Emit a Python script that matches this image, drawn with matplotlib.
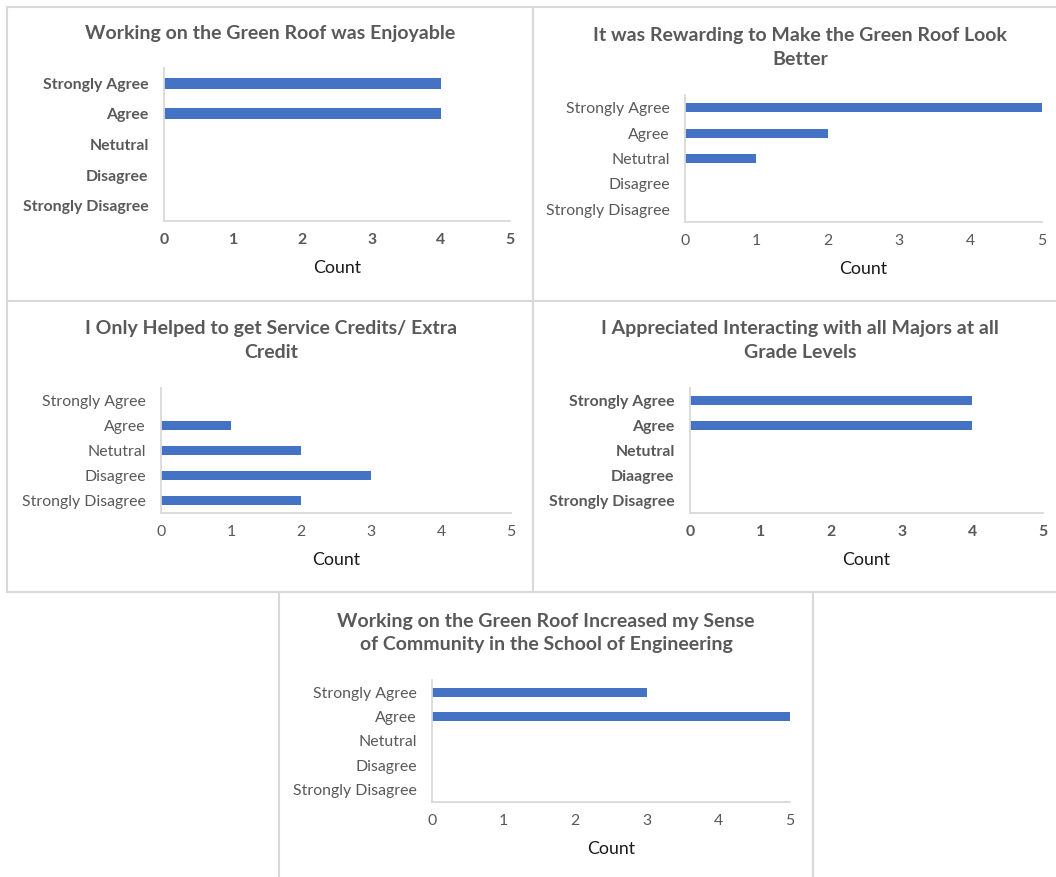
import matplotlib
matplotlib.use("Agg")
import matplotlib.pyplot as plt
from matplotlib.lines import Line2D

W, H = 1056, 877
DPI = 100

plt.rcParams["font.family"] = ["Lato", "DejaVu Sans"]

BAR_COLOR = "#4472C4"
GRAY_TXT = "#595959"
BORDER = "#D9D9D9"

# survey answers, top row first
levels = ["Strongly Agree", "Agree", "Netutral", "Disagree", "Strongly Disagree"]
levels_typo = ["Strongly Agree", "Agree", "Netutral", "Diaagree", "Strongly Disagree"]

enjoyable = [4, 4, 0, 0, 0]
rewarding = [5, 2, 1, 0, 0]
credits_only = [0, 1, 2, 3, 2]
majors = [4, 4, 0, 0, 0]
community = [3, 5, 0, 0, 0]

titles = [
    "Working on the Green Roof was Enjoyable",
    "It was Rewarding to Make the Green Roof Look\nBetter",
    "I Only Helped to get Service Credits/ Extra\nCredit",
    "I Appreciated Interacting with all Majors at all\nGrade Levels",
    "Working on the Green Roof Increased my Sense\nof Community in the School of Engineering",
]

xticks = [0, 1, 2, 3, 4, 5]


def px_axes(fig, left, top, right, bottom):
    return fig.add_axes([left / W, 1 - bottom / H, (right - left) / W, (bottom - top) / H])


def panel(fig, box, labels, values, title, title_xy, bold):
    left, top, right, bottom = box
    ax = px_axes(fig, left, top, right, bottom)
    ypos = list(range(len(labels)))
    ax.barh(ypos, values, height=0.36, color=BAR_COLOR)
    ax.set_yticks(ypos)
    weight = "bold" if bold else "normal"
    ax.set_yticklabels(labels, fontsize=11.4, color=GRAY_TXT, fontweight=weight)
    ax.set_ylim(len(labels) - 0.5, -0.5)
    ax.set_xlim(0, 5)
    ax.set_xticks(xticks)
    ax.set_xticklabels([str(t) for t in xticks], fontsize=11.4, color=GRAY_TXT,
                       fontweight=weight)
    ax.tick_params(axis="y", length=0, pad=11)
    ax.tick_params(axis="x", length=0, pad=8.5)
    for s in ["top", "right"]:
        ax.spines[s].set_visible(False)
    for s in ["left", "bottom"]:
        ax.spines[s].set_color(BORDER)
        ax.spines[s].set_linewidth(1.3)
    ax.set_xlabel("Count", fontsize=12.8, color="#1a1a1a")
    ax.xaxis.label.set_va("center")
    ax.xaxis.set_label_coords(0.5, -47 / (bottom - top))
    fig.text(title_xy[0] / W, 1 - title_xy[1] / H, title, ha="center", va="center",
             fontsize=14, fontweight="bold", color=GRAY_TXT, linespacing=1.46)
    return ax


fig = plt.figure(figsize=(W / DPI, H / DPI), dpi=DPI)

panel(fig, (164, 68, 510, 221), levels, enjoyable, titles[0], (270, 34), True)
panel(fig, (685, 95, 1042, 222), levels, rewarding, titles[1], (800, 47.5), False)
panel(fig, (161, 388, 511, 513), levels, credits_only, titles[2], (271, 340.5), False)
panel(fig, (690, 388, 1043, 513), levels_typo, majors, titles[3], (800, 340.5), True)
panel(fig, (432, 680, 790, 802), levels, community, titles[4], (546, 633), False)

# panel frames, like the pasted chart boxes
frame_lines = [
    ((7, 1056), (7, 7)),
    ((7, 7), (7, 592)),
    ((533, 533), (7, 592)),
    ((7, 1056), (301, 301)),
    ((7, 1056), (592, 592)),
    ((279, 279), (592, 877)),
    ((813, 813), (592, 877)),
]
for xs, ys in frame_lines:
    fig.add_artist(Line2D([x / W for x in xs], [1 - y / H for y in ys],
                          transform=fig.transFigure, color=BORDER, linewidth=1.5))

fig.savefig("out.png", dpi=DPI, facecolor="white")
